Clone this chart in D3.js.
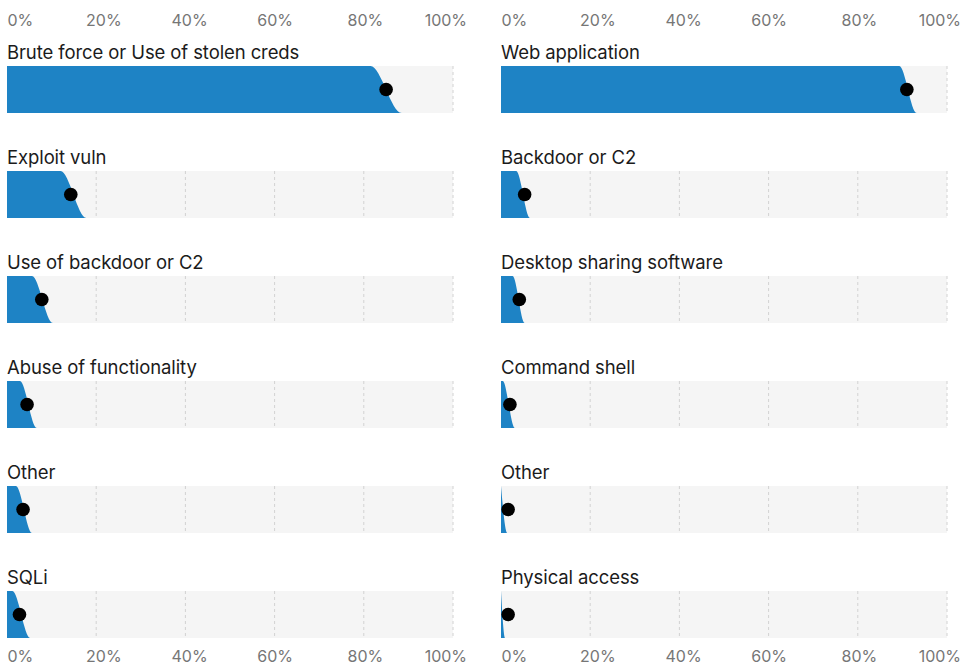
<!DOCTYPE html>
<html lang="en">
<head>
  <meta charset="UTF-8">
  <title>Initial access vectors</title>
  <script src="https://d3js.org/d3.v7.min.js"></script>
  <style>
    body {
      margin: 0;
      background: #fff;
      font-family: Inter, "Noto Sans", Arial, sans-serif;
    }
    .row-label {
      font-size: 18.5px;
      fill: #1b1b1b;
      letter-spacing: -0.1px;
    }
    .axis text {
      font-size: 16px;
      fill: #767676;
      font-family: Inter, "Noto Sans", Arial, sans-serif;
    }
  </style>
</head>
<body>
  <svg id="chart" width="964" height="666"></svg>

  <script>
    // left panel: action varieties
    const leftCategories = ["Brute force or Use of stolen creds", "Exploit vuln", "Use of backdoor or C2",
      "Abuse of functionality", "Other", "SQLi"];
    const leftMedian = [85, 14.3, 7.8, 4.5, 3.6, 2.8];
    const leftLower = [81.5, 12, 5.6, 2.9, 2.0, 1.2];   // where the fill starts to drop
    const leftUpper = [88.5, 17.8, 10.3, 6.7, 5.6, 5.2]; // where the fill reaches zero

    // right panel: vectors
    const rightCategories = ["Web application", "Backdoor or C2", "Desktop sharing software",
      "Command shell", "Other", "Physical access"];
    const rightMedian = [91, 5.3, 4.1, 2.0, 1.6, 1.6];
    const rightLower = [89.3, 3.4, 2.6, 0.4, 0, 0];
    const rightUpper = [93.2, 6.5, 5.3, 3.1, 1.4, 0.9];

    const tickValues = [0, 20, 40, 60, 80, 100];
    const tickLabels = ["0%", "20%", "40%", "60%", "80%", "100%"];

    const blue = "#1e83c5";
    const barBg = "#f5f5f5";
    const gridColor = "#d2d2d2";
    const tickHjust = [0, 0.3, 0.4, 0.5, 0.47, 0.68];

    const svg = d3.select("#chart");
    const rowTop = 66, rowStep = 105, barH = 47;

    const panels = [
      { cats: leftCategories, med: leftMedian, lo: leftLower, hi: leftUpper, range: [7, 453] },
      { cats: rightCategories, med: rightMedian, lo: rightLower, hi: rightUpper, range: [501, 947] }
    ];

    panels.forEach(p => {
      const x = d3.scaleLinear().domain([0, 100]).range(p.range);
      const y = d3.scaleBand()
        .domain(p.cats)
        .range([rowTop, rowTop + 5 * rowStep + barH])
        .paddingInner((rowStep - barH) / rowStep)
        .paddingOuter(0);

      const g = svg.append("g");

      const rows = g.selectAll("g.row")
        .data(p.cats.map((c, i) => ({ cat: c, med: p.med[i], lo: p.lo[i], hi: p.hi[i] })))
        .join("g")
        .attr("class", "row")
        .attr("transform", d => `translate(0,${y(d.cat)})`);

      rows.append("rect")
        .attr("x", x(0))
        .attr("y", 0)
        .attr("width", x(100) - x(0))
        .attr("height", y.bandwidth())
        .attr("fill", barBg);

      rows.selectAll("line.grid")
        .data(tickValues.slice(1))
        .join("line")
        .attr("class", "grid")
        .attr("x1", d => x(d)).attr("x2", d => x(d))
        .attr("y1", 0).attr("y2", y.bandwidth())
        .attr("stroke", gridColor)
        .attr("stroke-width", 1)
        .attr("stroke-dasharray", "3,3");

      const frac = d3.scaleLinear().domain([0, 1]).range([y.bandwidth(), 0]);
      const area = d3.area()
        .x(d => x(d[0]))
        .y0(frac(0))
        .y1(d => frac(d[1]))
        .curve(d3.curveMonotoneX);

      rows.append("path")
        .attr("fill", blue)
        .attr("d", d => {
          const pts = [[0, 1]];
          if (d.lo > 0) pts.push([d.lo, 1]);
          pts.push([d.hi, 0], [100, 0]);
          return area(pts);
        });

      rows.append("circle")
        .attr("cx", d => x(d.med))
        .attr("cy", y.bandwidth() / 2)
        .attr("r", 6.8)
        .attr("fill", "#000");

      rows.append("text")
        .attr("class", "row-label")
        .attr("x", x(0))
        .attr("y", -7)
        .text(d => d.cat);

      // axes top and bottom
      const fmt = (d, i) => tickLabels[i];
      const top = g.append("g").attr("class", "axis")
        .attr("transform", "translate(0,26)")
        .call(d3.axisTop(x).tickValues(tickValues).tickFormat(fmt).tickSize(0).tickPadding(0));
      const bottom = g.append("g").attr("class", "axis")
        .attr("transform", "translate(0,662)")
        .call(d3.axisBottom(x).tickValues(tickValues).tickFormat(fmt).tickSize(0).tickPadding(0));

      [top, bottom].forEach(ax => {
        ax.select(".domain").remove();
        ax.selectAll("text")
          .attr("y", 0)
          .attr("dy", 0)
          .attr("text-anchor", "start")
          .attr("x", function (d, i) { return -tickHjust[i] * this.getComputedTextLength(); });
      });
    });
  </script>
</body>
</html>
